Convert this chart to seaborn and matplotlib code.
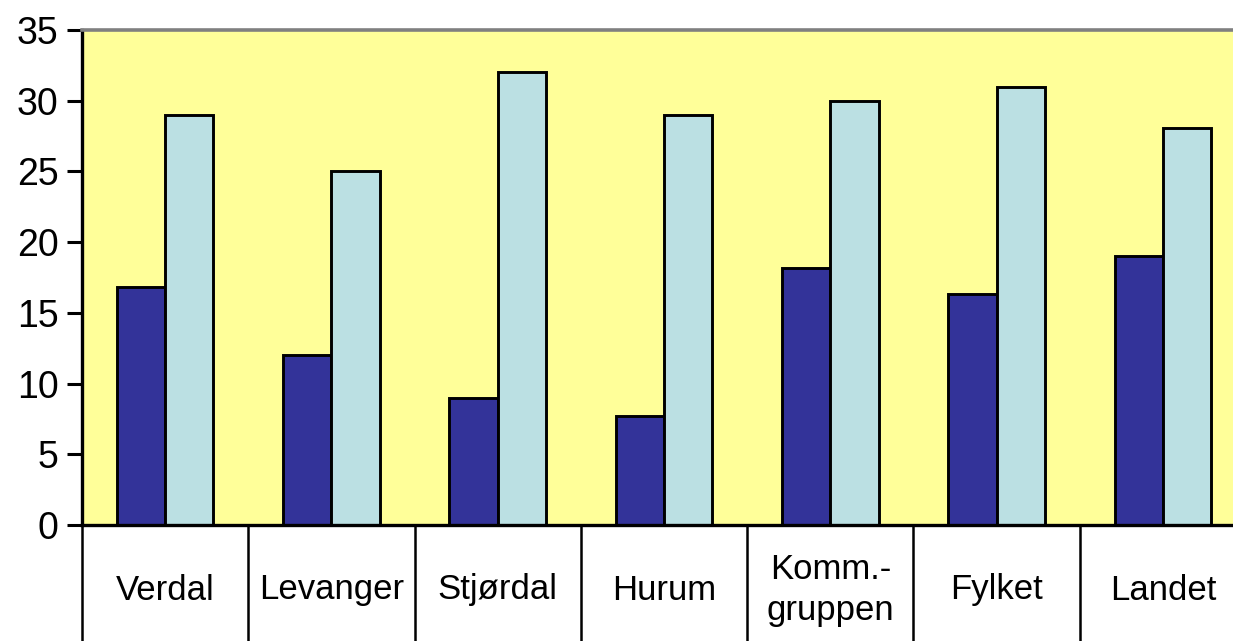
import matplotlib
matplotlib.use("Agg")
import matplotlib.pyplot as plt
import matplotlib.transforms as mtransforms
import seaborn as sns
import pandas as pd

categories = ["Verdal", "Levanger", "Stjørdal", "Hurum", "Komm.-\ngruppen", "Fylket", "Landet"]
series_a = [16.8, 12.0, 9.0, 7.7, 18.2, 16.3, 19.0]
series_b = [29.0, 25.0, 32.0, 29.0, 30.0, 31.0, 28.1]
yticks = [0, 5, 10, 15, 20, 25, 30, 35]

df = pd.DataFrame({
    "cat": categories * 2,
    "val": series_a + series_b,
    "ser": ["A"] * len(categories) + ["B"] * len(categories),
})

sns.set_style("white")
plt.rcParams["font.family"] = ["Liberation Sans", "DejaVu Sans"]
plt.rcParams["text.color"] = "black"
plt.rcParams["ytick.color"] = "black"
plt.rcParams["ytick.labelcolor"] = "black"

W, H = 1233, 641
fig = plt.figure(figsize=(W / 100, H / 100), dpi=100)
left, right, top, bottom = 82, 1246, 30, 525
ax = fig.add_axes([left / W, (H - bottom) / H, (right - left) / W, (bottom - top) / H])
ax.set_facecolor("#FFFF99")

sns.barplot(data=df, x="cat", y="val", hue="ser", order=categories,
            palette={"A": "#333399", "B": "#BBE0E3"}, width=0.58, gap=0,
            edgecolor="black", linewidth=2.1, legend=False, ax=ax, saturation=1)

ax.set_xlim(-0.5, len(categories) - 0.5)
ax.set_ylim(0, 35)
ax.set_yticks(yticks)
ax.set_yticklabels([str(t) for t in yticks], fontsize=27, color="black")
ax.tick_params(axis="y", direction="out", length=11, width=2.2, left=True, pad=6,
               colors="black")
ax.set_xticks([])
ax.set_xlabel("")
ax.set_ylabel("")

for s in ["left", "bottom"]:
    ax.spines[s].set_color("black")
    ax.spines[s].set_linewidth(2.4)
ax.spines["right"].set_visible(False)
ax.spines["top"].set_color("#808080")
ax.spines["top"].set_linewidth(2.6)

trans = mtransforms.blended_transform_factory(ax.transData, ax.transAxes)
axes_h = bottom - top
for i in range(len(categories) + 1):
    ax.plot([i - 0.5, i - 0.5], [0, -(H - bottom + 5) / axes_h], transform=trans,
            color="black", lw=1.8, clip_on=False)
for i, c in enumerate(categories):
    ax.text(i, -(590 - bottom) / axes_h, c, transform=trans, ha="center", va="center",
            fontsize=25, linespacing=1.3, color="black")

fig.savefig("out.png", dpi=100)
